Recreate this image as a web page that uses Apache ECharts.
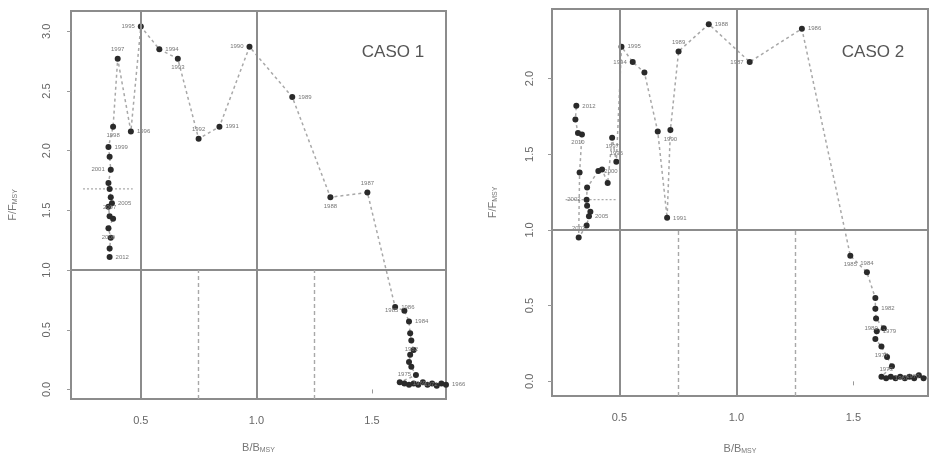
<!DOCTYPE html>
<html>
<head>
<meta charset="utf-8">
<script src="https://cdn.jsdelivr.net/npm/echarts@6/dist/echarts.min.js"></script>
<style>html,body{margin:0;padding:0;background:#fff}#c{width:931px;height:460px}</style>
</head>
<body>
<div id="c"></div>
<script>
// ---- DATA ----
const xTicks = [0.5, 1.0, 1.5];
const yTicks1 = [0.0, 0.5, 1.0, 1.5, 2.0, 2.5, 3.0];
const yTicks2 = [0.0, 0.5, 1.0, 1.5, 2.0];

// CASO 1 trajectory: B/Bmsy and F/Fmsy
const b1 = [1.82,1.80,1.78,1.76,1.74,1.72,1.70,1.68,1.66,1.64,1.62,
            1.69,1.67,1.66,1.665,1.68,1.67,1.665,1.66,1.64,1.60,
            1.48,1.32,1.155,0.97,0.84,0.75,0.66,0.58,0.50,0.457,0.40,
            0.38,0.36,0.365,0.37,0.36,0.365,0.37,0.375,0.36,0.365,0.38,0.36,0.37,0.365,0.365];
const f1 = [0.04,0.05,0.03,0.05,0.04,0.06,0.04,0.05,0.04,0.05,0.06,
            0.12,0.19,0.23,0.29,0.33,0.41,0.47,0.57,0.66,0.69,
            1.65,1.61,2.45,2.87,2.20,2.10,2.77,2.85,3.04,2.16,2.77,
            2.20,2.03,1.95,1.84,1.73,1.68,1.61,1.56,1.53,1.45,1.43,1.35,1.27,1.18,1.11];
const years1 = Array.from({length: b1.length}, (_, i) => String(2012 - (b1.length - 1) + i));
const labelIdx1 = [0,3,6,9,16,18,19,20,21,22,23,24,25,26,27,28,29,30,31,32,33,35,39,41,43,46];

// CASO 2 trajectory
const b2 = [1.82,1.80,1.78,1.76,1.74,1.72,1.70,1.68,1.66,1.64,1.62,
            1.665,1.644,1.62,1.594,1.60,1.63,1.597,1.594,1.594,1.558,1.487,
            1.28,1.057,0.882,0.753,0.718,0.704,0.664,0.607,0.557,0.509,
            0.487,0.469,0.45,0.426,0.41,0.362,0.36,0.362,0.376,0.37,0.36,0.326,
            0.33,0.34,0.323,0.312,0.316];
const f2 = [0.03,0.02,0.04,0.02,0.03,0.02,0.03,0.02,0.03,0.02,0.03,
            0.10,0.16,0.23,0.28,0.33,0.35,0.415,0.48,0.55,0.72,0.83,
            2.33,2.11,2.36,2.18,1.66,1.08,1.65,2.04,2.11,2.21,
            1.45,1.61,1.31,1.40,1.39,1.28,1.20,1.16,1.12,1.09,1.03,0.95,
            1.38,1.63,1.64,1.73,1.82];
const years2 = Array.from({length: b2.length}, (_, i) => String(2012 - (b2.length - 1) + i));
const labelIdx2 = [0,3,6,9,13,15,16,18,20,21,22,23,24,25,26,27,30,31,32,33,36,38,41,43,46,48];

// uncertainty bars (last year)
const errB1 = [0.25, 0.465], errF1 = 1.68;
const errB2 = [0.27, 0.49], errF2 = 1.20;

// ---- CHART ----
const chart = echarts.init(document.getElementById('c'));
const gridStyle = {show: true, borderColor: '#8c8c8c', borderWidth: 2, backgroundColor: 'transparent'};
const lblColor = '#666';
const sideCycle = ['right','left','right','top','bottom'];

function pts(b, f, years, idx) {
  return b.map((x, i) => {
    const item = {value: [x, f[i]]};
    const k = idx.indexOf(i);
    if (k >= 0) {
      item.label = {show: true, formatter: years[i], position: sideCycle[k % sideCycle.length],
                    fontSize: 6, color: '#777', distance: 3};
    }
    return item;
  });
}

function xAxisDef(gi, min, max, gap) {
  return {
    gridIndex: gi, type: 'value', min: min, max: max,
    name: 'B/B{s|MSY}', nameLocation: 'middle', nameGap: gap,
    nameTextStyle: {color: '#777', fontSize: 11, fontFamily: 'Liberation Sans', rich: {s: {fontSize: 7, color: '#777', padding: [6,0,0,0]}}},
    splitLine: {show: false}, axisLine: {show: false},
    axisTick: {show: true, customValues: xTicks, length: 4, lineStyle: {color: '#999'}},
    axisLabel: {customValues: xTicks, formatter: v => v.toFixed(1), color: lblColor, fontSize: 11, margin: 16, fontFamily: 'Liberation Sans'}
  };
}
function yAxisDef(gi, min, max, ticks, gap, margin) {
  return {
    gridIndex: gi, type: 'value', min: min, max: max,
    name: 'F/F{s|MSY}', nameLocation: 'middle', nameGap: gap, nameRotate: 90,
    nameTextStyle: {color: '#777', fontSize: 11, fontFamily: 'Liberation Sans', rich: {s: {fontSize: 7, color: '#777', padding: [6,0,0,0]}}},
    splitLine: {show: false}, axisLine: {show: false},
    axisTick: {show: true, customValues: ticks, length: 4, lineStyle: {color: '#999'}},
    axisLabel: {customValues: ticks, formatter: v => v.toFixed(1), color: lblColor, fontSize: 11, rotate: 90, margin: margin, fontFamily: 'Liberation Sans'}
  };
}
function refLines(ymin) {
  const solid = {color: '#8c8c8c', width: 2, type: 'solid'};
  const dash = {color: '#a8a8a8', width: 1.4, type: [4, 3]};
  return {
    symbol: 'none', silent: true, label: {show: false}, animation: false,
    data: [
      {xAxis: 0.5, lineStyle: solid},
      {xAxis: 1.0, lineStyle: solid},
      {yAxis: 1.0, lineStyle: solid},
      [{coord: [0.75, ymin], lineStyle: dash}, {coord: [0.75, 1.0]}],
      [{coord: [1.25, ymin], lineStyle: dash}, {coord: [1.25, 1.0]}]
    ]
  };
}

const option = {
  animation: false,
  grid: [
    Object.assign({left: 71, top: 11, width: 375, height: 388}, gridStyle),
    Object.assign({left: 552, top: 9, width: 376, height: 389}, gridStyle)
  ],
  xAxis: [xAxisDef(0, 0.198, 1.82, 42), xAxisDef(1, 0.212, 1.819, 46)],
  yAxis: [yAxisDef(0, -0.08, 3.17, yTicks1, 52, 19), yAxisDef(1, -0.097, 2.46, yTicks2, 53, 17)],
  series: [
    {
      type: 'line', xAxisIndex: 0, yAxisIndex: 0, z: 1,
      data: [[errB1[0], errF1], [errB1[1], errF1]], symbol: 'none',
      lineStyle: {color: '#aaa', width: 1.3, type: [2, 2]},
      markLine: refLines(-0.08)
    },
    {
      type: 'line', xAxisIndex: 1, yAxisIndex: 1, z: 1,
      data: [[errB2[0], errF2], [errB2[1], errF2]], symbol: 'none',
      lineStyle: {color: '#aaa', width: 1.3, type: [2, 2]},
      markLine: refLines(-0.097)
    },
    {
      type: 'line', xAxisIndex: 0, yAxisIndex: 0, z: 3,
      data: pts(b1, f1, years1, labelIdx1),
      symbol: 'circle', symbolSize: 6,
      itemStyle: {color: '#2a2a2a'},
      lineStyle: {color: '#a8a8a8', width: 1.5, type: [3, 3]}
    },
    {
      type: 'line', xAxisIndex: 1, yAxisIndex: 1, z: 3,
      data: pts(b2, f2, years2, labelIdx2),
      symbol: 'circle', symbolSize: 6,
      itemStyle: {color: '#2a2a2a'},
      lineStyle: {color: '#a8a8a8', width: 1.5, type: [3, 3]}
    }
  ],
  graphic: [
    {type: 'text', x: 393, y: 52, style: {text: 'CASO 1', font: '17px "Liberation Sans"', fill: '#555', align: 'center', verticalAlign: 'middle'}},
    {type: 'text', x: 873, y: 52, style: {text: 'CASO 2', font: '17px "Liberation Sans"', fill: '#555', align: 'center', verticalAlign: 'middle'}}
  ]
};
chart.setOption(option);
</script>
</body>
</html>
